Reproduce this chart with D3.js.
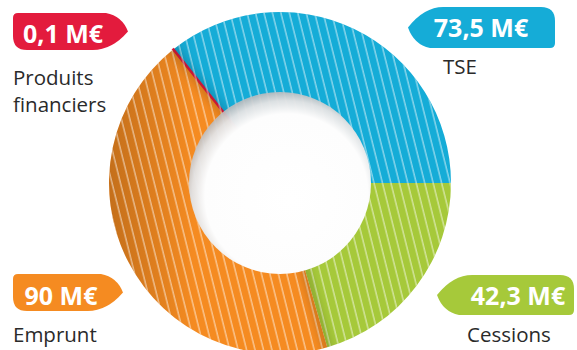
<!DOCTYPE html>
<html>
<head>
<meta charset="utf-8">
<script src="https://cdn.jsdelivr.net/npm/d3@7"></script>
<style>
  html, body { margin: 0; padding: 0; background: #fff; }
  svg { display: block; }
</style>
</head>
<body>
<div id="chart"></div>
<script>
// 1: DATA
const categories = ["TSE", "Cessions", "Emprunt", "Produits financiers"];
const values = [73.5, 42.3, 90, 0.1];
const valueLabels = ["73,5 M€", "42,3 M€", "90 M€", "0,1 M€"];
const colors = ["#15acd7", "#a6c93a", "#f58b21", "#e31b3d"];

// 2: LAYOUT
const W = 577, H = 350;
const cx = 280, cy = 183;
const outerR = 171, holeR = 91;

const svg = d3.select("#chart").append("svg")
    .attr("width", W)
    .attr("height", H);

const defs = svg.append("defs");

// hatch pattern: thin white lines, leaning "\"
const hatch = defs.append("pattern")
    .attr("id", "hatch")
    .attr("patternUnits", "userSpaceOnUse")
    .attr("width", 8.2)
    .attr("height", 20)
    .attr("patternTransform", "rotate(-14)");
hatch.append("line")
    .attr("x1", 1).attr("y1", 0).attr("x2", 1).attr("y2", 20)
    .attr("stroke", "#fff")
    .attr("stroke-opacity", 0.85)
    .attr("stroke-width", 0.9);

// left side darkening
const shade = defs.append("linearGradient")
    .attr("id", "shade")
    .attr("gradientUnits", "userSpaceOnUse")
    .attr("x1", cx - outerR).attr("y1", 0)
    .attr("x2", cx).attr("y2", 0);
shade.append("stop").attr("offset", 0).attr("stop-color", "#000").attr("stop-opacity", 0.2);
shade.append("stop").attr("offset", 0.5).attr("stop-color", "#000").attr("stop-opacity", 0);

// hole gradient: grey shadow at top-left
const holeGrad = defs.append("radialGradient")
    .attr("id", "holeGrad")
    .attr("cx", "0.53").attr("cy", "0.56").attr("r", "0.56")
    .attr("fx", "0.56").attr("fy", "0.6");
holeGrad.append("stop").attr("offset", 0).attr("stop-color", "#fff").attr("stop-opacity", 1);
holeGrad.append("stop").attr("offset", 0.8).attr("stop-color", "#fdfdfd").attr("stop-opacity", 1);
holeGrad.append("stop").attr("offset", 0.92).attr("stop-color", "#e2e2e3").attr("stop-opacity", 0.97);
holeGrad.append("stop").attr("offset", 1).attr("stop-color", "#bdbdbf").attr("stop-opacity", 0.92);

defs.append("filter").attr("id", "blur")
    .attr("x", "-50%").attr("y", "-50%").attr("width", "200%").attr("height", "200%")
    .append("feGaussianBlur").attr("stdDeviation", 4);

defs.append("clipPath").attr("id", "ringClip")
    .append("path")
    .attr("transform", `translate(${cx},${cy})`)
    .attr("d", d3.arc().innerRadius(holeR).outerRadius(outerR)
        .startAngle(0).endAngle(2 * Math.PI)());

// 3: PIE
const total = d3.sum(values);
const start = Math.PI / 2 - 2 * Math.PI * values[0] / total;
const pie = d3.pie().sort(null)
    .startAngle(start)
    .endAngle(start + 2 * Math.PI);
const arcs = pie(values);

const arc = d3.arc().innerRadius(50).outerRadius(outerR);

const g = svg.append("g").attr("transform", `translate(${cx},${cy})`);

g.selectAll("path.seg")
    .data(arcs)
    .join("path")
    .attr("class", "seg")
    .attr("d", arc)
    .attr("fill", (d, i) => colors[i])
    .attr("stroke", (d, i) => i === 3 ? colors[i] : "none")
    .attr("stroke-width", 2.2);

// shadows along segment boundaries
const shadowG = svg.append("g").attr("clip-path", "url(#ringClip)")
    .append("g").attr("transform", `translate(${cx},${cy})`);
shadowG.selectAll("line")
    .data(arcs.slice(0, 3))
    .join("line")
    .attr("x1", d => 60 * Math.sin(d.endAngle))
    .attr("y1", d => -60 * Math.cos(d.endAngle))
    .attr("x2", d => (outerR + 10) * Math.sin(d.endAngle))
    .attr("y2", d => -(outerR + 10) * Math.cos(d.endAngle))
    .attr("stroke", "#000")
    .attr("stroke-opacity", 0.18)
    .attr("stroke-width", 8)
    .attr("filter", "url(#blur)");

g.append("circle").attr("r", outerR).attr("fill", "url(#shade)")
    .attr("transform", `translate(${-cx},${-cy})`)
    .attr("cx", cx).attr("cy", cy);

g.append("circle").attr("r", outerR).attr("fill", "url(#hatch)");

// hole
g.append("circle").attr("r", holeR).attr("fill", "url(#holeGrad)");

// 4: BADGES
// shape pointing right, in local coordinates (0..w, 0..h)
function badgeRight(w, h) {
    const tip = 16;
    return `M0,5 Q0,0 5,0 L${w - tip - 6},0 Q${w - 6},${h * 0.08} ${w},${h / 2}` +
        ` Q${w - tip},${h} ${w - tip * 2.2},${h} L14,${h} Q0,${h} 0,${h - 14} Z`;
}

const badges = [
    { x: 408, y: 7, w: 147, h: 41, dir: "left", tx: 481, ty: 37, lx: 443, ly: 74 },
    { x: 437, y: 275, w: 137, h: 40, dir: "left", tx: 518, ty: 305, lx: 467, ly: 342 },
    { x: 13, y: 274, w: 110, h: 37, dir: "right", tx: 61, ty: 305, lx: 13, ly: 342 },
    { x: 13, y: 13, w: 115, h: 37, dir: "right", tx: 63, ty: 43, lx: 13, ly: 85 }
];

const labG = svg.append("g");
badges.forEach((b, i) => {
    const tr = b.dir === "right"
        ? `translate(${b.x},${b.y})`
        : `translate(${b.x + b.w},${b.y + b.h}) rotate(180)`;
    labG.append("path")
        .attr("d", badgeRight(b.w, b.h))
        .attr("transform", tr)
        .attr("fill", colors[i]);
    labG.append("text")
        .attr("x", b.tx).attr("y", b.ty)
        .attr("text-anchor", "middle")
        .attr("fill", "#fff")
        .style("font-family", "'Open Sans', 'Noto Sans', sans-serif")
        .style("font-weight", "bold")
        .style("font-size", "25px")
        .text(valueLabels[i]);
});

// category labels
labG.selectAll("text.cat")
    .data(badges)
    .join("text")
    .attr("class", "cat")
    .attr("x", d => d.lx)
    .attr("fill", "#2a2a2a")
    .style("font-family", "'Open Sans', 'Noto Sans', sans-serif")
    .style("font-size", "20.5px")
    .each(function (d, i) {
        const words = i === 3 ? ["Produits", "financiers"] : [categories[i]];
        words.forEach((w, k) => {
            d3.select(this).append("tspan")
                .attr("x", d.lx)
                .attr("y", d.ly + k * 27)
                .text(w);
        });
    });
</script>
</body>
</html>
